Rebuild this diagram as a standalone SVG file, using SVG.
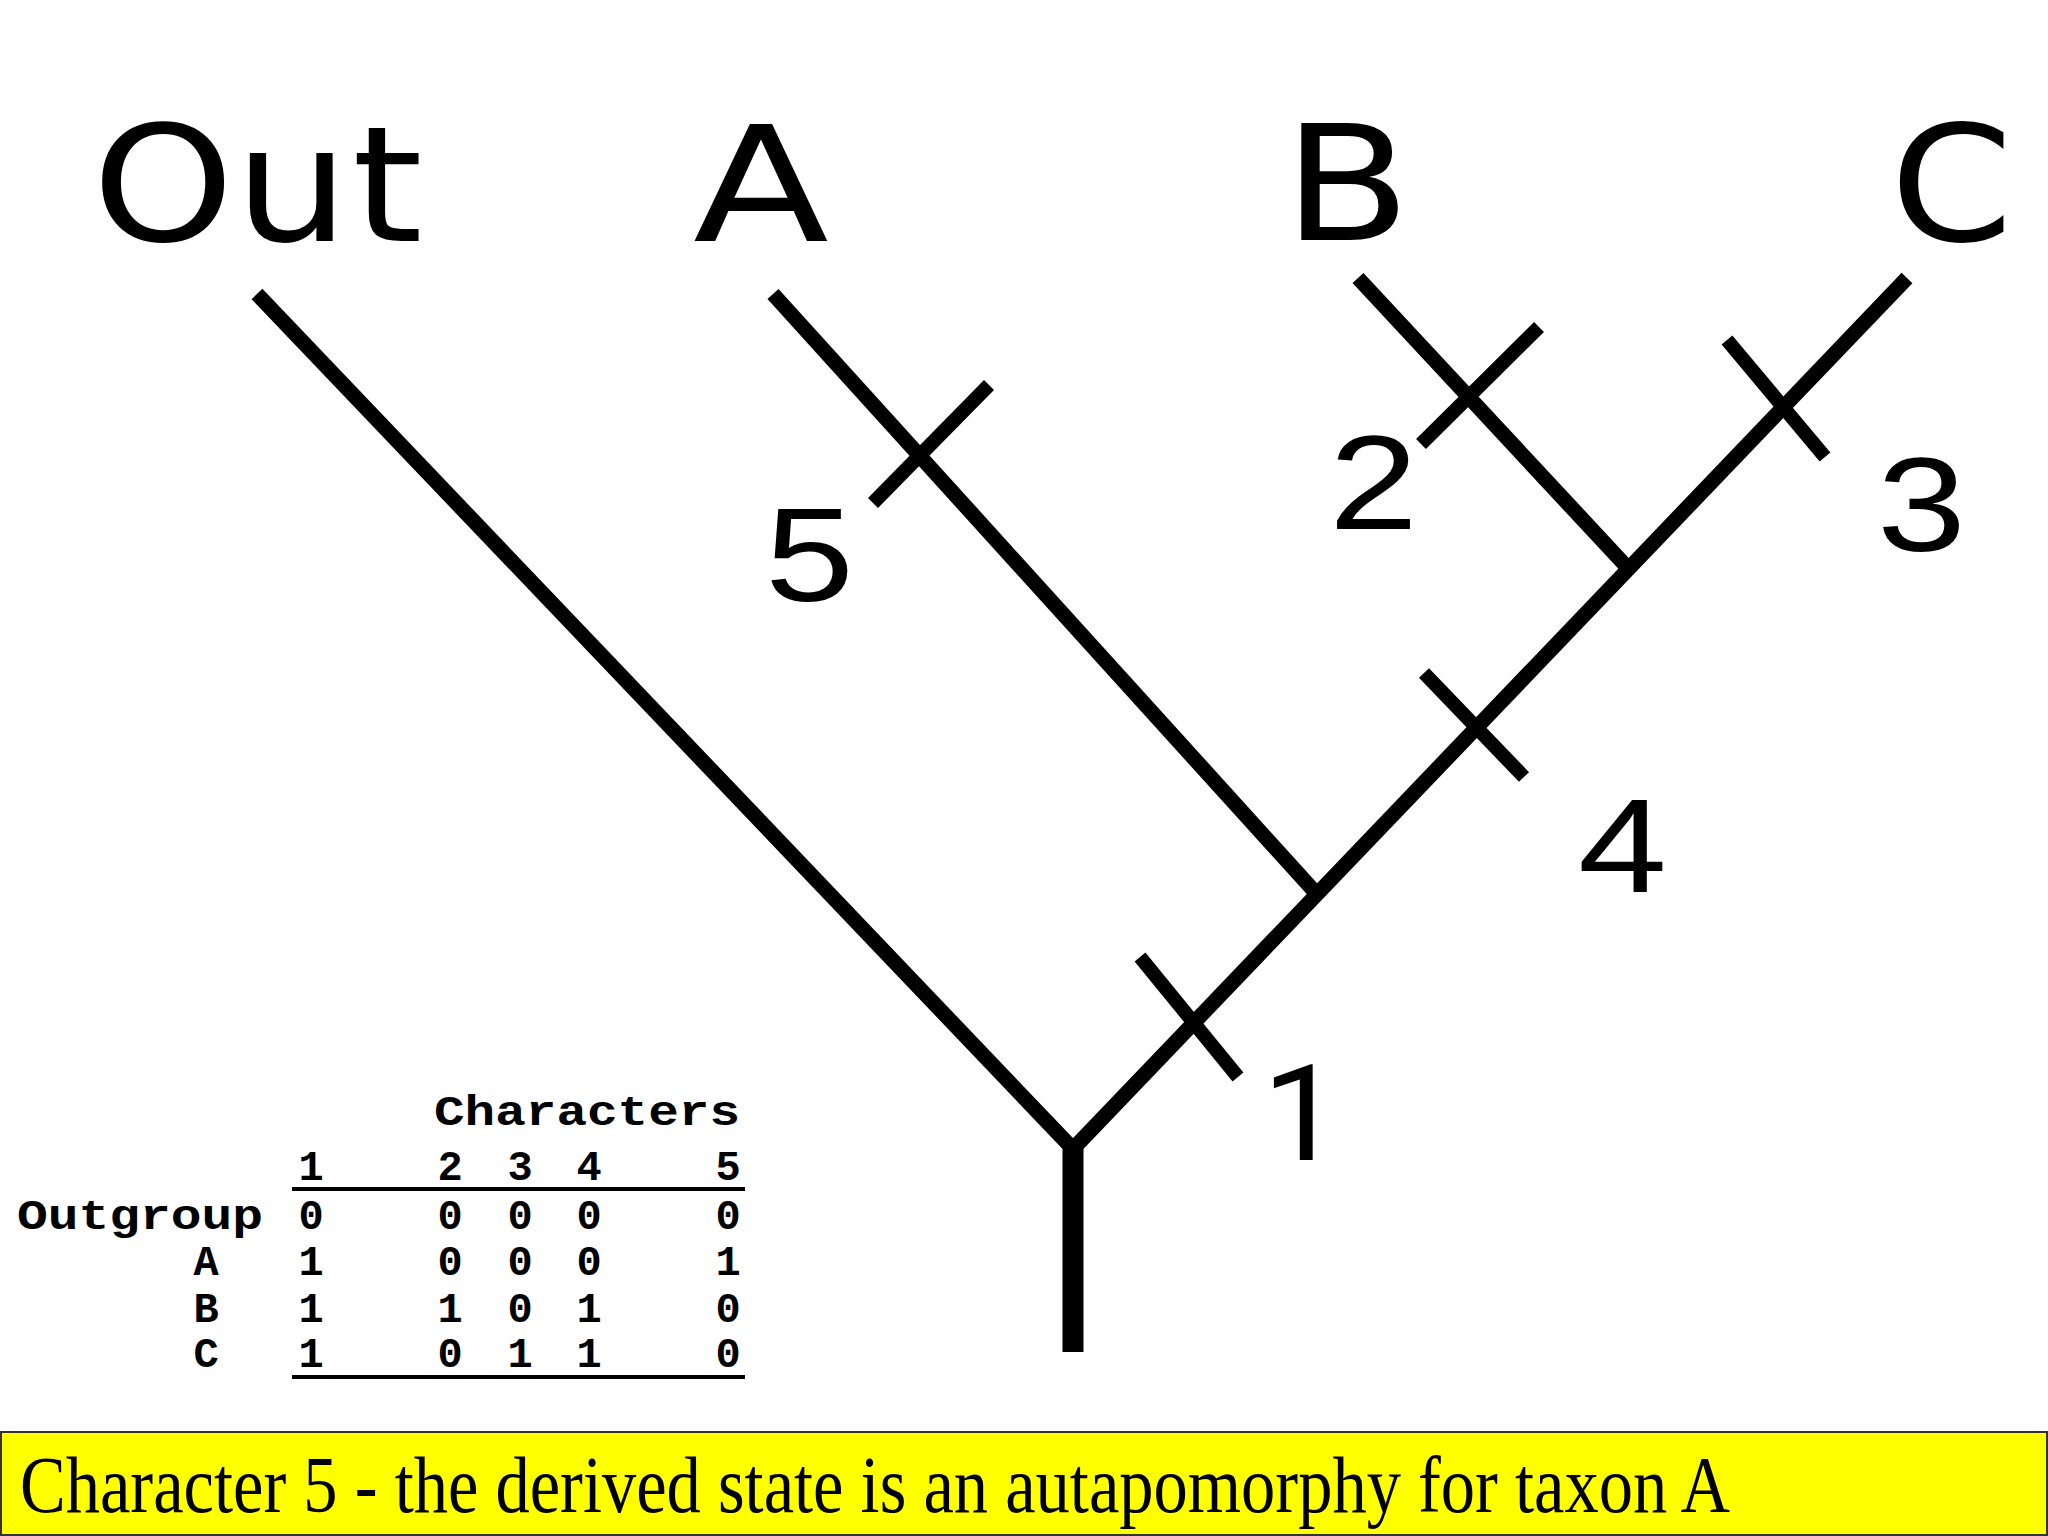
<svg xmlns="http://www.w3.org/2000/svg" width="2048" height="1536" viewBox="0 0 2048 1536">
<style>
.br{stroke:#000;stroke-width:15;stroke-linecap:butt;fill:none}
.tk{stroke:#000;stroke-width:14;stroke-linecap:butt;fill:none}
.root{stroke:#000;stroke-width:21;fill:none}
.tax{font-family:"DejaVu Sans","Liberation Sans",sans-serif;font-size:160px;fill:#000}
.num{font-family:"Liberation Sans",Arial,sans-serif;font-size:133px;fill:#000}
.one{font-family:Roboto,"Liberation Sans",sans-serif;font-size:133px;fill:#000}
.tb{font-family:"Liberation Mono","Courier New",monospace;font-weight:bold;font-size:42px;fill:#000}
.tbc{font-family:"Liberation Mono","Courier New",monospace;font-weight:bold;font-size:42px;fill:#000;text-anchor:middle}
.rule{stroke:#000;stroke-width:4}
.cap{font-family:"Liberation Serif","Times New Roman",serif;font-size:80px;fill:#000}
</style>
<rect width="2048" height="1536" fill="#fff"/>
<g id="connectors">
<line class="br" x1="257" y1="294" x2="1073" y2="1149"/>
<line class="br" x1="1073" y1="1149" x2="1907" y2="278"/>
<line class="br" x1="773" y1="294" x2="1315" y2="892"/>
<line class="br" x1="1358" y1="278" x2="1626" y2="566"/>
<line class="root" x1="1073" y1="1143" x2="1073" y2="1352"/>
</g>
<g id="ticks">
<line id="tick5" class="tk" x1="989" y1="385" x2="873" y2="503"/>
<line id="tick2" class="tk" x1="1539" y1="327" x2="1421" y2="444"/>
<line id="tick3" class="tk" x1="1727" y1="340" x2="1825" y2="457"/>
<line id="tick4" class="tk" x1="1424" y1="673" x2="1524" y2="777"/>
<line id="tick1" class="tk" x1="1140" y1="957" x2="1238" y2="1077"/>
</g>
<g id="taxon-out"><text class="tax" transform="translate(92,241) scale(1.13,1)" x="0 126 230" y="0">Out</text></g>
<g id="taxon-a"><text class="tax" x="693" y="241" textLength="136" lengthAdjust="spacingAndGlyphs">A</text></g>
<g id="taxon-b"><text class="tax" x="1283" y="240" textLength="128" lengthAdjust="spacingAndGlyphs">B</text></g>
<g id="taxon-c"><text class="tax" x="1890" y="241" textLength="123" lengthAdjust="spacingAndGlyphs">C</text></g>
<g id="labels">
<text class="num" x="765" y="601" textLength="89" lengthAdjust="spacingAndGlyphs">5</text>
<text class="num" x="1329" y="529" textLength="89" lengthAdjust="spacingAndGlyphs">2</text>
<text class="num" x="1877" y="551" textLength="89" lengthAdjust="spacingAndGlyphs">3</text>
<text class="num" x="1578" y="892" textLength="89" lengthAdjust="spacingAndGlyphs">4</text>
<text class="one" x="1262" y="1160" textLength="80" lengthAdjust="spacingAndGlyphs">1</text>
</g>
<g id="table">
<text class="tb" x="434" y="1125" textLength="306" lengthAdjust="spacingAndGlyphs">Characters</text>
<text class="tbc" x="311" y="1180">1</text>
<text class="tbc" x="450" y="1180">2</text>
<text class="tbc" x="520" y="1180">3</text>
<text class="tbc" x="589" y="1180">4</text>
<text class="tbc" x="728" y="1180">5</text>
<line class="rule" x1="292" y1="1189" x2="745" y2="1189"/>
<text class="tb" x="17" y="1229" textLength="246" lengthAdjust="spacingAndGlyphs">Outgroup</text>
<text class="tbc" x="311" y="1229">0</text><text class="tbc" x="450" y="1229">0</text><text class="tbc" x="520" y="1229">0</text><text class="tbc" x="589" y="1229">0</text><text class="tbc" x="728" y="1229">0</text>
<text class="tbc" x="206" y="1275">A</text>
<text class="tbc" x="311" y="1275">1</text><text class="tbc" x="450" y="1275">0</text><text class="tbc" x="520" y="1275">0</text><text class="tbc" x="589" y="1275">0</text><text class="tbc" x="728" y="1275">1</text>
<text class="tbc" x="206" y="1322">B</text>
<text class="tbc" x="311" y="1322">1</text><text class="tbc" x="450" y="1322">1</text><text class="tbc" x="520" y="1322">0</text><text class="tbc" x="589" y="1322">1</text><text class="tbc" x="728" y="1322">0</text>
<text class="tbc" x="206" y="1367">C</text>
<text class="tbc" x="311" y="1367">1</text><text class="tbc" x="450" y="1367">0</text><text class="tbc" x="520" y="1367">1</text><text class="tbc" x="589" y="1367">1</text><text class="tbc" x="728" y="1367">0</text>
<line class="rule" x1="292" y1="1377" x2="745" y2="1377"/>
</g>
<g id="caption">
<rect x="1" y="1432" width="2046" height="103" fill="#ffff00" stroke="#333" stroke-width="2"/>
<text class="cap" x="20" y="1512" textLength="1710" lengthAdjust="spacingAndGlyphs">Character 5 - the derived state is an autapomorphy for taxon A</text>
</g>
</svg>
